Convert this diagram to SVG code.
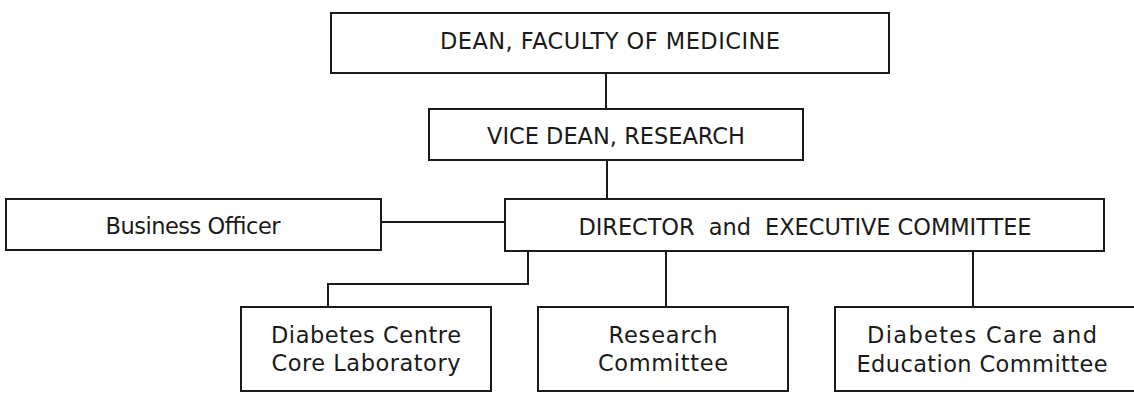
<svg xmlns="http://www.w3.org/2000/svg" width="1134" height="393" viewBox="0 0 1134 393">
<style>
.box{fill:#fff;stroke:#1a1a1a;stroke-width:2}
.lbl{font-family:"DejaVu Sans","Liberation Sans",sans-serif;font-size:22.5px;fill:#1a1a1a;text-anchor:middle}
.con{fill:none;stroke:#1a1a1a;stroke-width:2}
</style>
<rect width="1134" height="393" fill="#fff"/>
<g id="connectors">
<line class="con" x1="606" y1="73" x2="606" y2="109"/>
<line class="con" x1="607" y1="160" x2="607" y2="199"/>
<line class="con" x1="381" y1="222" x2="505" y2="222"/>
<polyline class="con" points="528,251 528,284 328,284 328,307"/>
<line class="con" x1="666" y1="251" x2="666" y2="307"/>
<line class="con" x1="973" y1="251" x2="973" y2="307"/>
</g>
<g id="dean">
<rect class="box" x="331" y="13" width="558" height="60"/>
<text class="lbl" x="610" y="49" textLength="340" lengthAdjust="spacing">DEAN, FACULTY OF MEDICINE</text>
</g>
<g id="vicedean">
<rect class="box" x="429" y="109" width="374" height="51"/>
<text class="lbl" x="616" y="144" textLength="258" lengthAdjust="spacing">VICE DEAN, RESEARCH</text>
</g>
<g id="business">
<rect class="box" x="6" y="199" width="375" height="51"/>
<text class="lbl" x="193" y="234" textLength="175" lengthAdjust="spacing">Business Officer</text>
</g>
<g id="director">
<rect class="box" x="505" y="199" width="599" height="52"/>
<text class="lbl" x="805" y="235" textLength="453" lengthAdjust="spacing" xml:space="preserve">DIRECTOR  and  EXECUTIVE COMMITTEE</text>
</g>
<g id="corelab">
<rect class="box" x="241" y="307" width="250" height="84"/>
<text class="lbl" x="366" y="343" textLength="190" lengthAdjust="spacing">Diabetes Centre</text>
<text class="lbl" x="366" y="371" textLength="189" lengthAdjust="spacing">Core Laboratory</text>
</g>
<g id="research">
<rect class="box" x="538" y="307" width="250" height="84"/>
<text class="lbl" x="663" y="343" textLength="109" lengthAdjust="spacing">Research</text>
<text class="lbl" x="663" y="371" textLength="130" lengthAdjust="spacing">Committee</text>
</g>
<g id="carecommittee">
<rect class="box" x="835" y="307" width="302" height="84"/>
<text class="lbl" x="982" y="343" textLength="230" lengthAdjust="spacing">Diabetes Care and</text>
<text class="lbl" x="982" y="372" textLength="251" lengthAdjust="spacing">Education Committee</text>
</g>
</svg>
